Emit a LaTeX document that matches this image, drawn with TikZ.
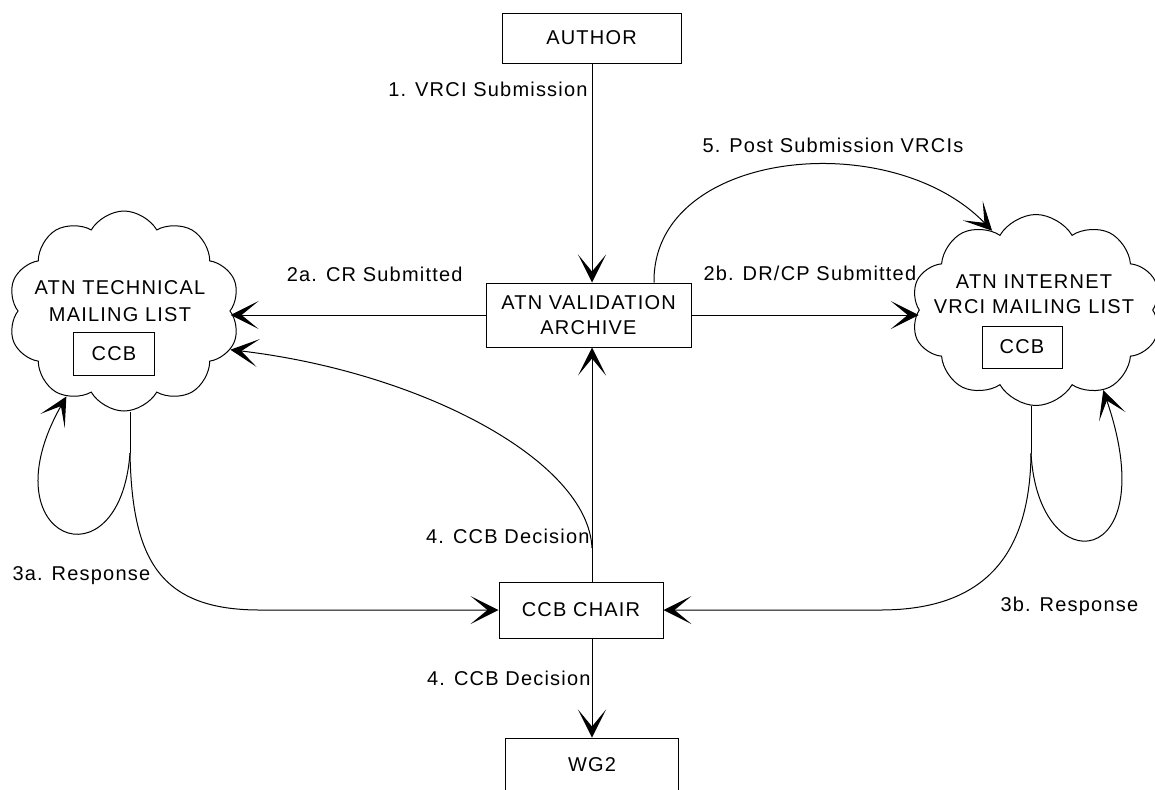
\documentclass[tikz,border=0pt]{standalone}
\usepackage{fontspec}
\setmainfont{Liberation Sans}[LetterSpace=6]
\usetikzlibrary{arrows.meta,shapes.symbols}
\begin{document}
\begin{tikzpicture}[x=0.5pt, y=-0.5pt, line width=0.5pt,
  every node/.style={font=\fontsize{10pt}{12.25pt}\selectfont},
  box/.style 2 args={draw, minimum width=#1, minimum height=#2, inner sep=0pt, align=center},
  cloudy/.style 2 args={draw, cloud, cloud puffs=10, cloud puff arc=120, cloud ignores aspect,
    minimum width=#1, minimum height=#2, inner sep=0pt},
  arr/.style={-{Stealth[length=14pt, width=14pt, inset=8.5pt]}},
  lbl/.style={inner sep=0pt}]

  \useasboundingbox (0,0) rectangle (1155,789);
  \coordinate (spine) at (592,0);

  % boxes
  \node[box={89.5pt}{25pt}] (author) at (591.5,38) {AUTHOR};
  \node[box={102.5pt}{32pt}] (archive) at (588.5,315) {ATN VALIDATION\\ARCHIVE};
  \node[box={82pt}{28pt}] (chair) at (581,610) {CCB CHAIR};
  \node[box={86.5pt}{27pt}] (wg2) at (592,765) {WG2};

  % mailing lists
  \node[cloudy={116pt}{100pt}] (techlist) at (124,311) {};
  \node[align=center, font=\fontsize{10pt}{13.5pt}\selectfont] (techtext) at (120,301) {ATN TECHNICAL\\MAILING LIST};
  \node[box={40.5pt}{21.5pt}] (techccb) at (114,354) {CCB};
  \node[cloudy={125pt}{95.5pt}] (netlist) at (1036,310) {};
  \node[align=center] (nettext) at (1034,294) {ATN INTERNET\\VRCI MAILING LIST};
  \node[box={40pt}{21pt}] (netccb) at (1022,347) {CCB};

  \draw[arr] (author.south -| spine) -- (archive.north -| spine); %% AUTHOR->ARCHIVE
  \draw[arr] (archive.west) -- (archive.west -| techlist.east); %% ARCHIVE->TECH
  \draw[arr] (archive.east) -- (archive.east -| netlist.west); %% ARCHIVE->NET
  \draw[arr] ([xshift=32.75pt]archive.north) .. controls (652,150) and (890,125) .. (netlist.119); %% ARCHIVE->NET, 5.
  \draw[arr] (chair.north -| spine) -- (archive.south -| spine); %% CHAIR->ARCHIVE
  \coordinate (fork4) at (592,548);
  \draw[arr] (fork4) .. controls (588,460) and (420,372) .. (techlist.-20); %% CHAIR->TECH
  \draw[arr] (chair.south -| spine) -- (wg2.north -| spine); %% CHAIR->WG2

  % 3a
  \coordinate (fork3a) at (130,453);
  \draw ([xshift=3pt]techlist.south) -- (fork3a);
  \draw[arr] (fork3a) .. controls (132,560) and (160,610) .. (260,610) -- (chair.west);
  \draw[arr] (fork3a) .. controls (120,590) and (-15,540) .. (techlist.-124);

  % 3b
  \coordinate (fork3b) at (1031,453);
  \draw ([xshift=-2.5pt]netlist.south) -- (fork3b);
  \draw[arr] (fork3b) .. controls (1030,560) and (980,610) .. (880,610) -- (chair.east);
  \draw[arr] (fork3b) .. controls (1038,585) and (1165,570) .. (netlist.-50);

  % labels
  \node[lbl, anchor=base east] (lab1) at (588,96) {1. VRCI Submission};
  \node[lbl, anchor=base west] (lab5) at (702,152) {5. Post Submission VRCIs};
  \node[lbl, anchor=base east] (lab2a) at (463,281) {2a. CR Submitted};
  \node[lbl, anchor=base west] (lab2b) at (703,280) {2b. DR/CP Submitted};
  \node[lbl, anchor=base east] (lab4a) at (590,543) {4. CCB Decision};
  \node[lbl, anchor=base east] (lab4b) at (591,685) {4. CCB Decision};
  \node[lbl, anchor=base west] (lab3a) at (12,580) {3a. Response};
  \node[lbl, anchor=base west] (lab3b) at (1000,611) {3b. Response};
\end{tikzpicture}
\end{document}
